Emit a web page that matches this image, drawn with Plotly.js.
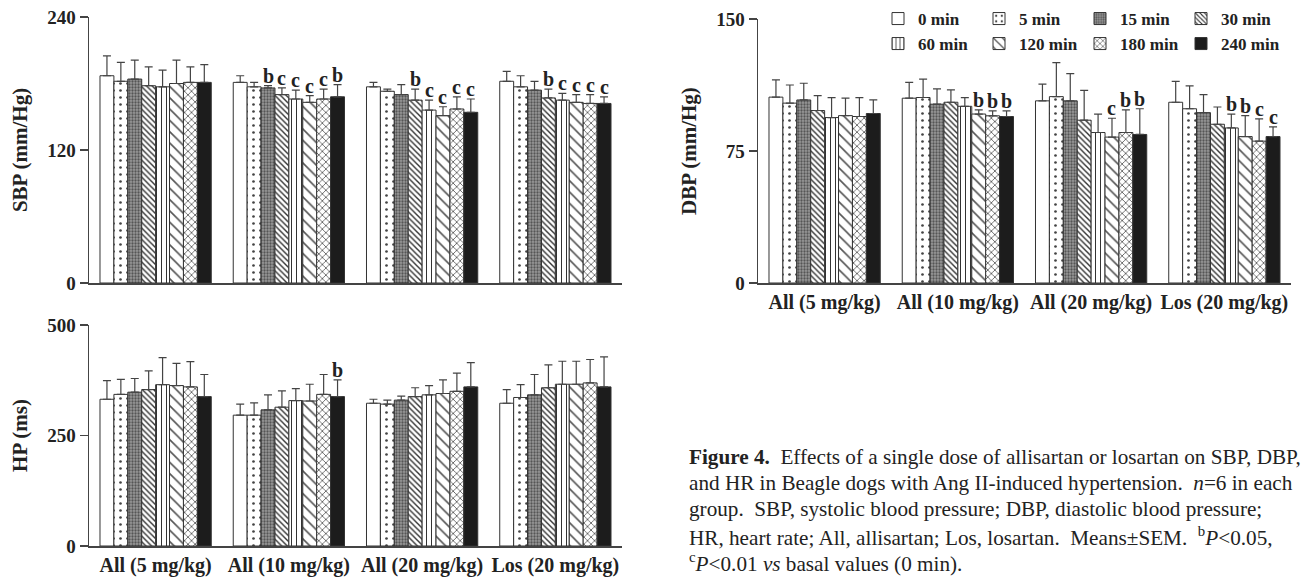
<!DOCTYPE html>
<html>
<head>
<meta charset="utf-8">
<script src="https://cdn.plot.ly/plotly-3.0.1.min.js"></script>
<style>html,body{margin:0;padding:0;background:#fff;}#chart{width:1310px;height:581px;}</style>
</head>
<body>
<div id="chart"></div>
<script>
// ---- data ----
const categories = ['All (5 mg/kg)', 'All (10 mg/kg)', 'All (20 mg/kg)', 'Los (20 mg/kg)'];
const times = ['0 min', '5 min', '15 min', '30 min', '60 min', '120 min', '180 min', '240 min'];

// SBP (mm/Hg): rows = time points, columns = groups
const sbpMean = [
  [187, 181, 177, 182],
  [182, 177, 173, 177],
  [184, 176, 170, 174],
  [178, 170, 165, 167],
  [177, 166, 156, 165],
  [180, 163, 151, 163],
  [181, 166, 157, 162],
  [181, 168, 154, 162]
];
const sbpSem = [
  [18, 6, 4, 9],
  [17, 4, 2, 10],
  [17, 2, 9, 8],
  [17, 6, 10, 8],
  [15, 8, 9, 6],
  [21, 6, 8, 7],
  [14, 9, 11, 8],
  [16, 11, 12, 6]
];
const sbpSig = [
  ['', '', '', ''],
  ['', '', '', ''],
  ['', 'b', '', ''],
  ['', 'c', 'b', 'b'],
  ['', 'c', 'c', 'c'],
  ['', 'c', 'c', 'c'],
  ['', 'c', 'c', 'c'],
  ['', 'b', 'c', 'c']
];

// DBP (mm/Hg)
const dbpMean = [
  [105.6, 105.0, 103.5, 102.7],
  [102.2, 105.4, 105.9, 99.0],
  [104.0, 101.6, 103.5, 96.8],
  [98.0, 102.7, 92.5, 90.2],
  [94.0, 100.4, 85.5, 88.1],
  [95.1, 96.0, 82.9, 83.2],
  [94.6, 95.0, 85.5, 80.6],
  [96.3, 94.6, 84.4, 83.2]
];
const dbpSem = [
  [9.8, 9.0, 9.5, 11.9],
  [10.3, 10.4, 19.3, 13.0],
  [9.5, 8.7, 15.5, 10.2],
  [8.5, 7.0, 17.0, 9.8],
  [11.3, 4.9, 10.5, 7.9],
  [9.9, 2.4, 10.7, 11.9],
  [10.7, 2.8, 12.9, 12.6],
  [7.7, 3.2, 14.6, 5.5]
];
const dbpSig = [
  ['', '', '', ''],
  ['', '', '', ''],
  ['', '', '', ''],
  ['', '', '', ''],
  ['', '', '', 'b'],
  ['', 'b', 'c', 'b'],
  ['', 'b', 'b', 'c'],
  ['', 'b', 'b', 'c']
];

// HP (ms)
const hpMean = [
  [332, 296, 323, 323],
  [343, 296, 321, 336],
  [348, 308, 330, 342],
  [354, 314, 338, 358],
  [365, 329, 342, 366],
  [363, 328, 345, 366],
  [360, 343, 350, 369],
  [338, 338, 360, 360]
];
const hpSem = [
  [42, 25, 9, 31],
  [34, 28, 9, 29],
  [31, 34, 9, 46],
  [42, 37, 20, 52],
  [61, 27, 21, 52],
  [50, 38, 31, 52],
  [57, 45, 41, 53],
  [50, 38, 55, 68]
];
const hpSig = [
  ['', '', '', ''],
  ['', '', '', ''],
  ['', '', '', ''],
  ['', '', '', ''],
  ['', '', '', ''],
  ['', '', '', ''],
  ['', '', '', ''],
  ['', 'b', '', '']
];

const yTicks = { sbp: [0, 120, 240], dbp: [0, 75, 150], hp: [0, 250, 500] };

const captionLines = [
  '<b>Figure 4.</b>  Effects of a single dose of allisartan or losartan on SBP, DBP,',
  'and HR in Beagle dogs with Ang II-induced hypertension.  <i>n</i>=6 in each',
  'group.  SBP, systolic blood pressure; DBP, diastolic blood pressure;',
  'HR, heart rate; All, allisartan; Los, losartan.  Means±SEM.  <sup>b</sup><i>P</i><0.05,',
  '<sup>c</sup><i>P</i><0.01 <i>vs</i> basal values (0 min).'
];

// ---- styles ----
const W = 1310, H = 581;
const SERIF = '"Liberation Serif", "DejaVu Serif", serif';
const INK = '#333333';
const styles = [
  { color: '#ffffff', pattern: { shape: '' } },
  { color: '#ffffff', pattern: { shape: '.', size: 7, solidity: 0.12, fgcolor: '#444', bgcolor: '#ffffff', fillmode: 'replace' } },
  { color: '#8a8a8a', pattern: { shape: '.', size: 3, solidity: 0.45, fgcolor: '#555', bgcolor: '#999999', fillmode: 'replace' } },
  { color: '#ffffff', pattern: { shape: '\\', size: 4, solidity: 0.35, fgcolor: '#333', bgcolor: '#ffffff', fillmode: 'replace' } },
  { color: '#ffffff', pattern: { shape: '|', size: 5, solidity: 0.2, fgcolor: '#333', bgcolor: '#ffffff', fillmode: 'replace' } },
  { color: '#ffffff', pattern: { shape: '\\', size: 8, solidity: 0.2, fgcolor: '#555', bgcolor: '#ffffff', fillmode: 'replace' } },
  { color: '#ffffff', pattern: { shape: 'x', size: 5, solidity: 0.25, fgcolor: '#333', bgcolor: '#ffffff', fillmode: 'replace' } },
  { color: '#1c1c1c', pattern: { shape: '' } }
];

const BARGAP = 0.165;
const panels = [
  { key: 'sbp', mean: sbpMean, sem: sbpSem, sig: sbpSig, xa: 'x', ya: 'y', legend: false },
  { key: 'hp', mean: hpMean, sem: hpSem, sig: hpSig, xa: 'x2', ya: 'y2', legend: false },
  { key: 'dbp', mean: dbpMean, sem: dbpSem, sig: dbpSig, xa: 'x3', ya: 'y3', legend: true }
];

const traces = [];
const annotations = [];
panels.forEach(p => {
  times.forEach((t, i) => {
    traces.push({
      type: 'bar',
      name: '<b>' + t + '</b>',
      x: categories,
      y: p.mean[i],
      xaxis: p.xa, yaxis: p.ya,
      showlegend: p.legend,
      legend: i < 4 ? 'legend' : 'legend2',
      marker: { color: styles[i].color, pattern: styles[i].pattern, line: { color: INK, width: 1 } },
      error_y: { type: 'data', symmetric: false, array: p.sem[i], arrayminus: p.sem[i].map(() => 0),
                 color: '#444', thickness: 1.2, width: 4 },
      hoverinfo: 'skip'
    });
    const groupW = 1 - BARGAP;
    const barW = groupW / times.length;
    p.sig[i].forEach((s, g) => {
      if (!s) return;
      annotations.push({
        xref: p.xa, yref: p.ya,
        x: g - groupW / 2 + (i + 0.5) * barW,
        y: p.mean[i][g] + p.sem[i][g],
        text: '<b>' + s + '</b>', showarrow: false,
        xanchor: 'center', yanchor: 'bottom', yshift: -3,
        font: { family: SERIF, size: 20, color: '#222' }
      });
    });
  });
});

// caption, one annotation per line
const captionCenters = [457, 483, 509, 536, 562];
captionLines.forEach((line, k) => {
  annotations.push({
    xref: 'paper', yref: 'paper', x: 687 / W, y: 1 - captionCenters[k] / H,
    xanchor: 'left', yanchor: 'middle', align: 'left', showarrow: false,
    font: { family: SERIF, size: 21.2, color: '#222' },
    text: line
  });
});

const tickFont = { family: SERIF, size: 19, color: '#222', weight: 'bold' };
function xAxis(domain, anchor, showLabels) {
  return {
    domain: domain, anchor: anchor, type: 'category', automargin: false,
    showline: true, linecolor: '#444', linewidth: 1.5, tickangle: 0,
    showgrid: false, zeroline: false, ticks: '', showticklabels: showLabels,
    tickfont: { family: SERIF, size: 20, color: '#222', weight: 'bold' }, fixedrange: true
  };
}
function yAxis(domain, anchor, range, ticks, title) {
  return {
    domain: domain, anchor: anchor, range: range, automargin: false,
    tickvals: ticks, ticktext: ticks.map(String),
    showline: true, linecolor: '#444', linewidth: 1.5,
    ticks: 'outside', ticklen: 8, tickwidth: 1.5, tickcolor: '#444',
    showgrid: false, zeroline: false, tickfont: tickFont,
    title: { text: title, font: { family: SERIF, size: 21, color: '#222', weight: 'bold' }, standoff: 14 },
    fixedrange: true
  };
}

const legendBase = {
  orientation: 'h', xanchor: 'left', yanchor: 'middle',
  entrywidth: 56, entrywidthmode: 'pixels',
  font: { family: SERIF, size: 17, color: '#222' },
  bgcolor: 'rgba(0,0,0,0)', borderwidth: 0, traceorder: 'normal'
};

const layout = {
  width: W, height: H,
  margin: { l: 0, r: 0, t: 0, b: 0, autoexpand: false },
  paper_bgcolor: '#ffffff', plot_bgcolor: '#ffffff',
  barmode: 'group', bargap: BARGAP, bargroupgap: 0,
  showlegend: true,
  legend: Object.assign({}, legendBase, { x: 878 / W, y: 1 - 19 / H }),
  legend2: Object.assign({}, legendBase, { x: 878 / W, y: 1 - 44 / H }),
  xaxis: xAxis([89 / W, 622 / W], 'y', false),
  yaxis: yAxis([1 - 283 / H, 1 - 17 / H], 'x', [0, 240], yTicks.sbp, '<b>SBP (mm/Hg)</b>'),
  xaxis2: xAxis([89 / W, 622 / W], 'y2', true),
  yaxis2: yAxis([1 - 546 / H, 1 - 325 / H], 'x2', [0, 500], yTicks.hp, '<b>HP (ms)</b>'),
  xaxis3: xAxis([758 / W, 1291 / W], 'y3', true),
  yaxis3: yAxis([1 - 283 / H, 1 - 19 / H], 'x3', [0, 150], yTicks.dbp, '<b>DBP (mm/Hg)</b>'),
  annotations: annotations
};

Plotly.newPlot('chart', traces, layout, { staticPlot: true, displayModeBar: false });
</script>
</body>
</html>
